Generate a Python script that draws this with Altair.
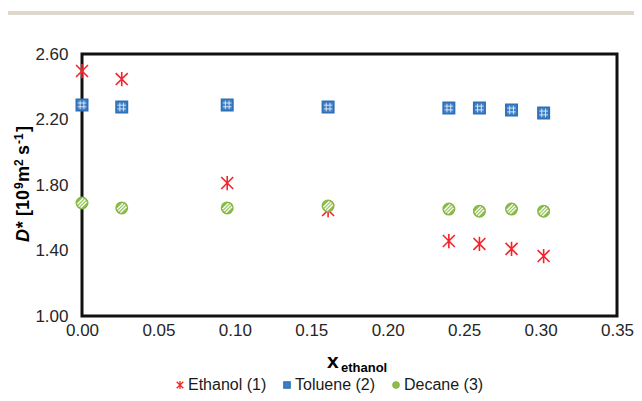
import altair as alt
import pandas as pd

# ---- data ----
x_vals = [0.000, 0.026, 0.095, 0.161, 0.240, 0.260, 0.281, 0.302]
ethanol = [2.496, 2.447, 1.812, 1.647, 1.458, 1.440, 1.410, 1.366]
toluene = [2.289, 2.276, 2.289, 2.276, 2.270, 2.270, 2.258, 2.240]
decane = [1.690, 1.660, 1.660, 1.672, 1.653, 1.640, 1.653, 1.640]
series_names = ["Ethanol (1)", "Toluene (2)", "Decane (3)"]
x_ticks = [0.00, 0.05, 0.10, 0.15, 0.20, 0.25, 0.30, 0.35]
y_ticks = [1.00, 1.40, 1.80, 2.20, 2.60]

rows = []
for name, vals in zip(series_names, [ethanol, toluene, decane]):
    for xv, yv in zip(x_vals, vals):
        rows.append({"x": xv, "y": yv, "series": name})
df = pd.DataFrame(rows)

FONT = "Liberation Sans"
ASTERISK = "M-1.05,-1.05L1.05,1.05M-1.05,1.05L1.05,-1.05M0,-1.25L0,1.25"
GRID = "M-0.33,-0.75L-0.33,0.75M0.33,-0.75L0.33,0.75M-0.75,-0.33L0.75,-0.33M-0.75,0.33L0.75,0.33"
STRIPES = "M-0.62,0.62L0.62,-0.62M-0.24,0.87L0.87,-0.24M-0.87,0.24L0.24,-0.87"

xscale = alt.Scale(domain=[0, 0.35], nice=False)
yscale = alt.Scale(domain=[1.0, 2.6], nice=False)

xenc = alt.X("x:Q", scale=xscale,
             axis=alt.Axis(values=x_ticks, format=".2f", title=None,
                           labelPadding=6, labelFlush=False))
yenc = alt.Y("y:Q", scale=yscale,
             axis=alt.Axis(values=y_ticks, format=".2f", title=None,
                           labelPadding=14, labelFlush=False))

leg = alt.Legend(orient="none", direction="horizontal",
                 legendX=90, legendY=323, title=None,
                 labelFont=FONT, labelFontSize=16,
                 labelColor="#1a1a1a", symbolSize=40,
                 symbolStrokeWidth=1.3, columnPadding=12,
                 labelOffset=0)

base = alt.Chart(df)

points = base.mark_point(strokeWidth=1.6, opacity=1, size=130).encode(
    x=xenc,
    y=yenc,
    fill=alt.Fill("series:N",
                  scale=alt.Scale(domain=series_names,
                                  range=["transparent", "#3F7FC6", "#8DBE4B"]),
                  legend=leg),
    stroke=alt.Stroke("series:N",
                      scale=alt.Scale(domain=series_names,
                                      range=["#F4242B", "#2E6FB5", "#86B644"]),
                      legend=leg),
    shape=alt.Shape("series:N",
                    scale=alt.Scale(domain=series_names,
                                    range=[ASTERISK, "square", "circle"]),
                    legend=leg),
)

tol_pattern = base.transform_filter(alt.datum.series == "Toluene (2)").mark_point(
    shape=GRID, stroke="white", strokeWidth=0.9, opacity=0.85, size=130, filled=False
).encode(x=alt.X("x:Q", scale=xscale), y=alt.Y("y:Q", scale=yscale))

dec_pattern = base.transform_filter(alt.datum.series == "Decane (3)").mark_point(
    shape=STRIPES, stroke="white", strokeWidth=1.5, opacity=0.9, size=120, filled=False
).encode(x=alt.X("x:Q", scale=xscale), y=alt.Y("y:Q", scale=yscale))

# axis titles as text (mixed styles)
title_df = pd.DataFrame({"t": [0]})
tb = alt.Chart(title_df)
x_main = tb.mark_text(text="x", font=FONT, fontWeight="bold", fontSize=21,
                      align="left", baseline="alphabetic", color="#000").encode(
    x=alt.value(245), y=alt.value(314))
x_sub = tb.mark_text(text="ethanol", font=FONT, fontWeight="bold", fontSize=13,
                     align="left", baseline="alphabetic", color="#000").encode(
    x=alt.value(259), y=alt.value(318))

# y title segments: text, start (along the rotated line), font size, baseline x, italic
y_segments = [
    ("D*", 188, 18, -53, "italic"),
    ("[10", 162, 18, -53, "normal"),
    ("9", 135, 12, -59, "normal"),
    ("m", 128, 18, -53, "normal"),
    ("2", 112, 12, -59, "normal"),
    ("s", 101, 18, -53, "normal"),
    ("-1", 90, 12, -59, "normal"),
    ("]", 78, 18, -53, "normal"),
]
y_title_layers = [
    tb.mark_text(text=t, font=FONT, fontWeight="bold", fontStyle=st, fontSize=fs,
                 align="left", baseline="alphabetic", angle=270, color="#000"
                 ).encode(x=alt.value(bx), y=alt.value(ys))
    for (t, ys, fs, bx, st) in y_segments
]

top_band = tb.mark_rule(color="#DDD8CB", strokeWidth=4).encode(
    x=alt.value(-74), x2=alt.value(552), y=alt.value(-41))

chart = alt.layer(points, tol_pattern, dec_pattern, x_main, x_sub, *y_title_layers,
                  top_band).resolve_scale(x="shared", y="shared").properties(
    width=535, height=262,
    autosize=alt.AutoSizeParams(type="none"),
    padding={"left": 74, "top": 46, "right": 17, "bottom": 77},
    background="white",
).configure_view(
    stroke="#111", strokeWidth=3
).configure_axis(
    domain=False, ticks=False, tickSize=0, grid=False,
    labelFont=FONT, labelFontSize=17, labelColor="#262626",
)

chart.save("out.html", embed_options={"renderer": "svg", "actions": False})
